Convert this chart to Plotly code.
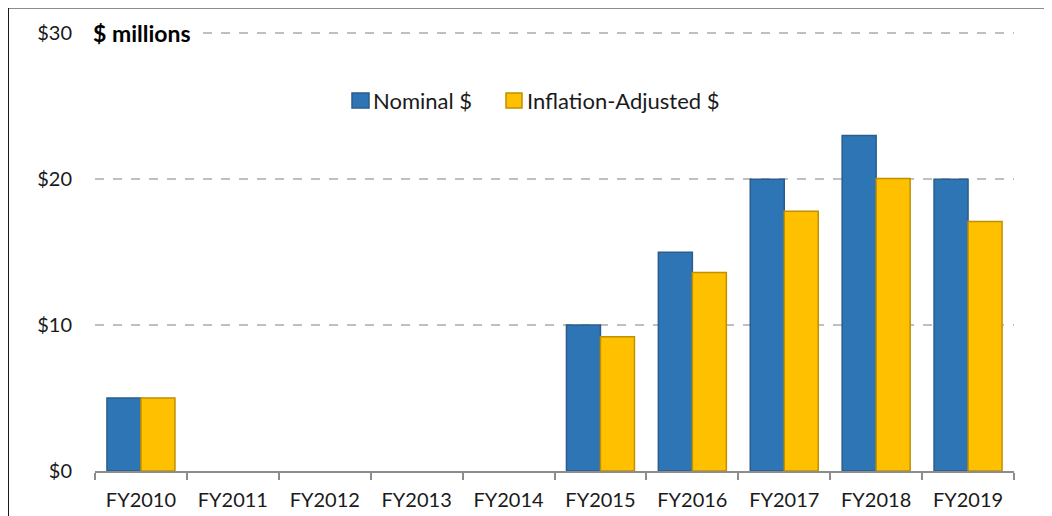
import plotly.graph_objects as go

categories = ["FY2010", "FY2011", "FY2012", "FY2013", "FY2014",
              "FY2015", "FY2016", "FY2017", "FY2018", "FY2019"]
nominal = [5, None, None, None, None, 10, 15, 20, 23, 20]
adjusted = [5, None, None, None, None, 9.2, 13.6, 17.8, 20.05, 17.1]
y_ticks = [0, 10, 20, 30]
y_labels = ["$0", "$10", "$20", "$30"]
series_names = ["Nominal $", "Inflation-Adjusted $"]
series_colors = ["#2E75B6", "#FFC000"]
series_edges = ["#2A5D8C", "#BF9000"]

FONT = "Lato, 'Open Sans', sans-serif"

# page has an 8px body margin; compensate so the plot area lands where the reference has it
Y_MAX = 30.5
W, H = 1044, 508
L, R, T, B = 87, 38, 18, 45
PX0, PX1, PY0 = 95, 1014, 471        # plot area in page pixels
PY1 = 8 + T                           # top of plot area in page pixels


def px(x):
    return (x - PX0) / (PX1 - PX0)


def py(y):
    return (PY0 - y) / (PY0 - PY1)


fig = go.Figure()
for vals, name, col, edge in zip([nominal, adjusted], series_names, series_colors, series_edges):
    fig.add_trace(go.Bar(x=categories, y=vals, name=name, showlegend=False,
                         marker=dict(color=col, line=dict(color=edge, width=1.5))))

fig.update_layout(
    width=W, height=H,
    margin=dict(l=L, r=R, t=T, b=B),
    paper_bgcolor="white", plot_bgcolor="white",
    barmode="group", bargap=0.26, bargroupgap=0,
    font=dict(family=FONT, size=19, color="#1a1a1a"),
    showlegend=False,
    xaxis=dict(
        type="category", showgrid=False, showline=True, linecolor="#8C8C8C", linewidth=2,
        ticks="outside", tickson="boundaries", ticklen=7, tickcolor="#8C8C8C", tickwidth=2,
        tickfont=dict(size=20, color="#1a1a1a"), ticklabelstandoff=10, automargin=False,
    ),
    yaxis=dict(
        range=[0, Y_MAX], tickvals=y_ticks, ticktext=y_labels,
        showgrid=True, gridcolor="#BFBFBF", gridwidth=2, griddash="dash",
        zeroline=False, showline=False, ticks="", automargin=False,
        tickfont=dict(size=20, color="#1a1a1a"), ticklabelstandoff=22,
    ),
)

fig.add_annotation(text="<b>$ millions</b>", xref="paper", yref="y",
                   x=px(86), y=30, xanchor="left", yanchor="middle",
                   showarrow=False, font=dict(size=23, color="#000000"),
                   bgcolor="white", borderpad=6)

# legend (drawn manually to match square swatches and spacing)
legend_items = [(352, 369, 371), (506, 522, 525)]
for (x0, x1, tx), name, col, edge in zip(legend_items, series_names, series_colors, series_edges):
    fig.add_shape(type="rect", xref="paper", yref="paper",
                  x0=px(x0), x1=px(x1), y0=py(108), y1=py(93),
                  fillcolor=col, line=dict(color=edge, width=1.5))
    fig.add_annotation(text=name, xref="paper", yref="paper",
                       x=px(tx), y=py(100.5), xanchor="left", yanchor="middle",
                       showarrow=False, font=dict(size=22, color="#1a1a1a"))

# frame lines (top and left border of the original image)
fig.add_shape(type="line", xref="paper", yref="paper",
              x0=px(8), x1=px(1100), y0=py(7.5), y1=py(7.5),
              line=dict(color="#1a1a1a", width=2))
fig.add_shape(type="line", xref="paper", yref="paper",
              x0=px(8), x1=px(8), y0=py(7.5), y1=py(600),
              line=dict(color="#1a1a1a", width=2))

fig.write_html("out.html")
